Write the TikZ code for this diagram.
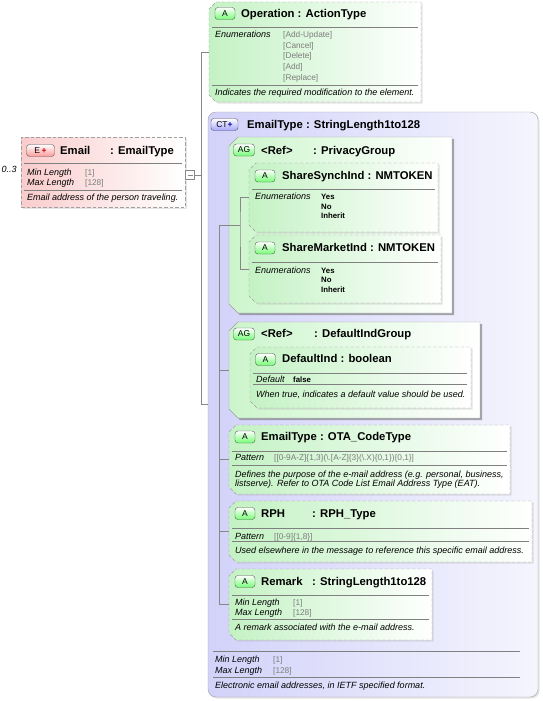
\documentclass[tikz,border=0pt]{standalone}
\usepackage{fontspec}
\setmainfont{Liberation Sans}
\usetikzlibrary{shadows,positioning}

\definecolor{attrgreen}{RGB}{196,242,196}
\definecolor{grpgreen}{RGB}{204,245,204}
\definecolor{ctblue}{RGB}{210,210,250}
\definecolor{ctlight}{RGB}{245,245,254}
\definecolor{elpink}{RGB}{250,204,204}
\definecolor{valgray}{RGB}{125,125,125}
\definecolor{edgegray}{RGB}{160,160,160}
\definecolor{linkgray}{RGB}{135,135,135}

% outline with cut corners on the left side, drawn round a placed frame node
\newcommand{\cutbox}[3]{%
    \draw[#3] ([xshift=#2]#1.north west) -- (#1.north east) -- (#1.south east)
        -- ([xshift=#2]#1.south west) -- ([yshift=#2]#1.south west)
        -- ([yshift=-#2]#1.north west) -- cycle;}

\tikzset{
    shadowed/.style={drop shadow={shadow xshift=1.5pt, shadow yshift=-1.5pt,
                     fill=black!30, opacity=0.35}},
    darkshadowed/.style={drop shadow={shadow xshift=2pt, shadow yshift=-2pt,
                     fill=black!55, opacity=0.6}},
    frame/.style={rectangle, anchor=north west, inner sep=0pt, outer sep=0pt},
    attrline/.style={draw=edgegray, dash pattern=on 3.5pt off 2pt,
                     left color=attrgreen, right color=white, shadowed},
    grpline/.style={draw=edgegray, left color=grpgreen, right color=white, darkshadowed},
    elembox/.style={frame, draw=edgegray, dash pattern=on 3.5pt off 2pt,
                    left color=elpink, right color=white, shadowed},
    typebox/.style={frame, rounded corners=8pt, draw=edgegray,
                    left color=ctblue, right color=ctlight, shadowed},
    badge/.style={draw=black!65, rounded corners=3pt, minimum height=12pt, inner sep=0pt,
                  font=\fontsize{8.5}{9}\selectfont},
    abadge/.style={badge, minimum width=20pt, top color=white, bottom color=green!55!white},
    agbadge/.style={badge, minimum width=21pt, top color=white, bottom color=green!55!white},
    ctbadge/.style={badge, minimum width=27pt, top color=white, bottom color=blue!35!white},
    ebadge/.style={badge, minimum width=28pt, top color=white, bottom color=red!40!white},
    ttl/.style={anchor=base west, inner sep=0pt, font=\fontsize{11.3}{12}\selectfont\bfseries},
    lbl/.style={anchor=base west, inner sep=0pt, font=\fontsize{9}{10}\selectfont\itshape},
    val/.style={anchor=base west, inner sep=0pt, text=valgray, font=\fontsize{8.3}{9}\selectfont},
    enumv/.style={anchor=base west, inner sep=0pt, font=\fontsize{7.8}{8}\selectfont\bfseries},
    sepline/.style={draw=black!50, line width=0.5pt},
    link/.style={draw=linkgray, line width=0.6pt},
}

\begin{document}
\begin{tikzpicture}[x=1pt, y=-1pt]
    \useasboundingbox (0,0) rectangle (543,701);

    % element Email
    \node[elembox, minimum width=164pt, minimum height=70pt] (email) at (21,137) {};
    \node[ebadge] (embadge) at (40.5,150.5) {E\,\textcolor{red!75!black}{\bfseries +}};
    \node[ttl] (emname) at (60,154) {Email};
    \node[ttl] (emtype) at (110,154) {: EmailType};
    \draw[sepline] (24,163.5) -- (182,163.5);
    \node[lbl] (emminl) at (27,175.5) {Min Length};
    \node[val] (emminv) at (85,175.5) {[1]};
    \node[lbl] (emmaxl) at (27,185.5) {Max Length};
    \node[val] (emmaxv) at (85,185.5) {[128]};
    \draw[sepline] (24,190) -- (182,190);
    \node[lbl] (emdesc) at (27,200) {Email address of the person traveling.};
    \node[lbl] (occurs) at (1.5,172.5) {0..3};

    % attribute Operation
    \node[frame, minimum width=212pt, minimum height=100pt] (oper) at (209,2) {};
    \cutbox{oper}{7pt}{attrline}
    \node[abadge] (opbadge) at (225,13.5) {A};
    \node[ttl] (optitle) at (241,17.5) {Operation : ActionType};
    \draw[sepline] (212,27.3) -- (418,27.3);
    \node[lbl] (openum) at (215,37.5) {Enumerations};
    \node[val] (opv1) at (283,37.5) {[Add-Update]};
    \node[val] (opv2) at (283,48.2) {[Cancel]};
    \node[val] (opv3) at (283,59) {[Delete]};
    \node[val] (opv4) at (283,69.7) {[Add]};
    \node[val] (opv5) at (283,80.5) {[Replace]};
    \draw[sepline] (212,85) -- (418,85);
    \node[lbl] (opdesc) at (215,95.5) {Indicates the required modification to the element.};

    % complex type EmailType
    \node[typebox, minimum width=330pt, minimum height=585pt] (ctype) at (208,112) {};
    \node[ctbadge] (ctbadge) at (224.5,124.5) {CT\textcolor{blue!60!black}{\bfseries +}};
    \node[ttl] (cttitle) at (247,128) {EmailType : StringLength1to128};

    % group PrivacyGroup
    \node[frame, minimum width=223pt, minimum height=176pt] (privgrp) at (229,137) {};
    \cutbox{privgrp}{9pt}{grpline}
    \node[agbadge] (pgbadge) at (244,150) {AG};
    \node[ttl] (pgref) at (261,154) {<Ref>};
    \node[ttl] (pgname) at (313,154) {: PrivacyGroup};

    \node[frame, minimum width=189pt, minimum height=69pt] (synch) at (249,163) {};
    \cutbox{synch}{7pt}{attrline}
    \node[abadge] (sybadge) at (265,176) {A};
    \node[ttl] (sytitle) at (282,179) {ShareSynchInd : NMTOKEN};
    \draw[sepline] (252,189) -- (435,189);
    \node[lbl] (syenum) at (255,199.5) {Enumerations};
    \node[enumv] (syv1) at (321,199.5) {Yes};
    \node[enumv] (syv2) at (321,209) {No};
    \node[enumv] (syv3) at (321,218.5) {Inherit};

    \node[frame, minimum width=192pt, minimum height=68pt] (market) at (249,235) {};
    \cutbox{market}{7pt}{attrline}
    \node[abadge] (mkbadge) at (265,248) {A};
    \node[ttl] (mktitle) at (282,251) {ShareMarketInd : NMTOKEN};
    \draw[sepline] (252,262) -- (438,262);
    \node[lbl] (mkenum) at (255,273) {Enumerations};
    \node[enumv] (mkv1) at (321,273) {Yes};
    \node[enumv] (mkv2) at (321,282.5) {No};
    \node[enumv] (mkv3) at (321,292) {Inherit};

    % group DefaultIndGroup
    \node[frame, minimum width=251pt, minimum height=96pt] (defgrp) at (229,322) {};
    \cutbox{defgrp}{9pt}{grpline}
    \node[agbadge] (dgbadge) at (244,334) {AG};
    \node[ttl] (dgref) at (261,337.5) {<Ref>};
    \node[ttl] (dgname) at (314,337.5) {: DefaultIndGroup};

    \node[frame, minimum width=221pt, minimum height=61pt] (defind) at (250,347) {};
    \cutbox{defind}{7pt}{attrline}
    \node[abadge] (dibadge) at (265.5,359.5) {A};
    \node[ttl] (dititle) at (282,362.5) {DefaultInd : boolean};
    \draw[sepline] (253,373) -- (467,373);
    \node[lbl] (didefl) at (256,382.5) {Default};
    \node[enumv] (didefv) at (293,382.5) {false};
    \draw[sepline] (253,384.5) -- (467,384.5);
    \node[lbl] (didesc) at (256,397) {When true, indicates a default value should be used.};

    % attribute EmailType
    \node[frame, minimum width=281pt, minimum height=69pt] (etype) at (229,425) {};
    \cutbox{etype}{7pt}{attrline}
    \node[abadge] (etbadge) at (245,437) {A};
    \node[ttl] (ettitle) at (261,440.5) {EmailType : OTA\_CodeType};
    \draw[sepline] (232,451.5) -- (507,451.5);
    \node[lbl] (etpatl) at (235,460) {Pattern};
    \node[val] (etpatv) at (274,460) {[[0-9A-Z]\{1,3\}(\textbackslash.[A-Z]\{3\}(\textbackslash.X)\{0,1\})\{0,1\}]};
    \draw[sepline] (232,465) -- (507,465);
    \node[lbl] (etdesc1) at (235,477) {Defines the purpose of the e-mail address (e.g. personal, business,};
    \node[lbl] (etdesc2) at (235,486) {listserve). Refer to OTA Code List Email Address Type (EAT).};

    % attribute RPH
    \node[frame, minimum width=303pt, minimum height=61pt] (rph) at (229,501) {};
    \cutbox{rph}{7pt}{attrline}
    \node[abadge] (rpbadge) at (245,513.5) {A};
    \node[ttl] (rpname) at (261,517.5) {RPH};
    \node[ttl] (rptype) at (312,517.5) {: RPH\_Type};
    \draw[sepline] (232,528.3) -- (529,528.3);
    \node[lbl] (rppatl) at (235,539) {Pattern};
    \node[val] (rppatv) at (274,539) {[[0-9]\{1,8\}]};
    \draw[sepline] (232,541.7) -- (529,541.7);
    \node[lbl] (rpdesc) at (235,553) {Used elsewhere in the message to reference this specific email address.};

    % attribute Remark
    \node[frame, minimum width=203pt, minimum height=71pt] (remark) at (229,569) {};
    \cutbox{remark}{7pt}{attrline}
    \node[abadge] (rmbadge) at (245,581.5) {A};
    \node[ttl] (rmname) at (261,585) {Remark};
    \node[ttl] (rmtype) at (312,585) {: StringLength1to128};
    \draw[sepline] (232,595) -- (429,595);
    \node[lbl] (rmminl) at (235,605.7) {Min Length};
    \node[val] (rmminv) at (293,605.7) {[1]};
    \node[lbl] (rmmaxl) at (235,615.7) {Max Length};
    \node[val] (rmmaxv) at (293,615.7) {[128]};
    \draw[sepline] (232,619.5) -- (429,619.5);
    \node[lbl] (rmdesc) at (235,630.7) {A remark associated with the e-mail address.};

    % facets of the complex type
    \draw[sepline] (213,651.7) -- (520,651.7);
    \node[lbl] (ctminl) at (215,662) {Min Length};
    \node[val] (ctminv) at (273,662) {[1]};
    \node[lbl] (ctmaxl) at (215,673) {Max Length};
    \node[val] (ctmaxv) at (273,673) {[128]};
    \draw[sepline] (213,677.3) -- (520,677.3);
    \node[lbl] (ctdesc) at (215,688) {Electronic email addresses, in IETF specified format.};

    % connectors
    \node[draw=linkgray, fill=white, minimum size=9pt, inner sep=0pt, outer sep=0pt] (toggle) at (190,175) {};
    \draw[link] ([xshift=2pt]toggle.west) -- ([xshift=-2pt]toggle.east);
    \coordinate (bus) at (201.5,175);
    \draw[link] (toggle.east) -- (bus);
    \draw[link] (oper.west) -| (bus) |- (ctype.west);

    \coordinate (ibus) at (219.5,0);
    \draw[link] (privgrp.west -| ibus) -- (remark.west -| ibus);
    \foreach \kid in {privgrp,defgrp,etype,rph,remark}
        \draw[link] (\kid.west -| ibus) -- (\kid.west);

    \path (privgrp.west) ++(11,0) coordinate (pbus);
    \draw[link] (privgrp.west) -- (pbus);
    \draw[link] (synch.west) -| (pbus) |- (market.west);
\end{tikzpicture}
\end{document}
